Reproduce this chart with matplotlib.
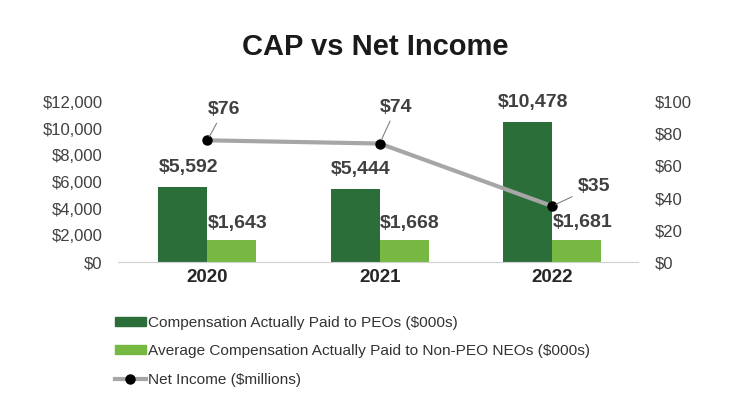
import matplotlib
matplotlib.use('Agg')
from matplotlib import pyplot as plt
from matplotlib.ticker import FuncFormatter
from matplotlib.patches import Patch
from matplotlib.lines import Line2D
import numpy as np

plt.rcParams['font.family'] = ['Liberation Sans', 'DejaVu Sans']

years = ['2020', '2021', '2022']
cap_peo = [5592, 5444, 10478]
cap_neo = [1643, 1668, 1681]
net_income = [76, 74, 35]

dark = '#2b6e3a'
light = '#77b843'
grey = '#a6a6a6'
txt = '#404040'

fig = plt.figure(figsize=(7.5, 4.09), dpi=100)
ax = fig.add_axes([0.157, 0.359, 0.694, 0.392])
ax2 = ax.twinx()

x = np.arange(len(years))
w = 0.285
ax.bar(x - w / 2, cap_peo, w, color=dark, zorder=2)
ax.bar(x + w / 2, cap_neo, w, color=light, zorder=2)

ax.set_xlim(-0.52, 2.5)
ax.set_ylim(0, 12000)
ax.set_yticks(range(0, 12001, 2000))
ax.yaxis.set_major_formatter(FuncFormatter(lambda v, p: f'${v:,.0f}'))
ax2.set_ylim(0, 100)
ax2.set_yticks(range(0, 101, 20))
ax2.yaxis.set_major_formatter(FuncFormatter(lambda v, p: f'${v:.0f}'))

for a in (ax, ax2):
    for s in a.spines.values():
        s.set_visible(False)
    a.tick_params(length=0, labelsize=12, labelcolor=txt)
ax.spines['bottom'].set_visible(True)
ax.spines['bottom'].set_color('#d0d0d0')
ax.tick_params(axis='y', pad=11)
ax2.tick_params(axis='y', pad=12)

ax.set_xticks(x)
ax.set_xticklabels(years, fontsize=13.5, fontweight='bold', color='#262626')
ax.tick_params(axis='x', pad=5)

for i in range(len(years)):
    ax.annotate(f'${cap_peo[i]:,}', (x[i] - w / 2, cap_peo[i]), xytext=(4, 8),
                textcoords='offset points', ha='center', va='bottom',
                fontsize=14, fontweight='bold', color=txt)
    ax.annotate(f'${cap_neo[i]:,}', (x[i] + w / 2, cap_neo[i]), xytext=(4, 6),
                textcoords='offset points', ha='center', va='bottom',
                fontsize=14, fontweight='bold', color=txt)

ax2.plot(x, net_income, color=grey, lw=3, marker='o', ms=6.5,
         mfc='black', mec='black', zorder=3)
offs = [(12, 16), (12, 20), (30, 14)]
for i in range(len(years)):
    ax2.annotate(f'${net_income[i]}', (x[i], net_income[i]), xytext=offs[i],
                 textcoords='offset points', ha='center', va='bottom' if i < 2 else 'center',
                 fontsize=14, fontweight='bold', color=txt,
                 arrowprops=dict(arrowstyle='-', color='#808080', lw=0.8,
                                 shrinkA=2, shrinkB=3))

fig.text(0.5, 0.885, 'CAP vs Net Income', ha='center', va='center',
         fontsize=21, fontweight='bold', color='#1a1a1a')

handles = [Patch(color=dark), Patch(color=light),
           Line2D([0], [0], color=grey, lw=3, marker='o', ms=6.5, mfc='black', mec='black')]
labels = ['Compensation Actually Paid to PEOs ($000s)',
          'Average Compensation Actually Paid to Non-PEO NEOs ($000s)',
          'Net Income ($millions)']
leg = fig.legend(handles, labels, loc='upper left', bbox_to_anchor=(0.143, 0.247),
                 frameon=False, fontsize=11.1, handlelength=2.0, handleheight=0.5,
                 handletextpad=0.15, labelspacing=0.95, borderpad=0)
for t in leg.get_texts():
    t.set_color('#333333')

fig.savefig('out.png', dpi=100)
